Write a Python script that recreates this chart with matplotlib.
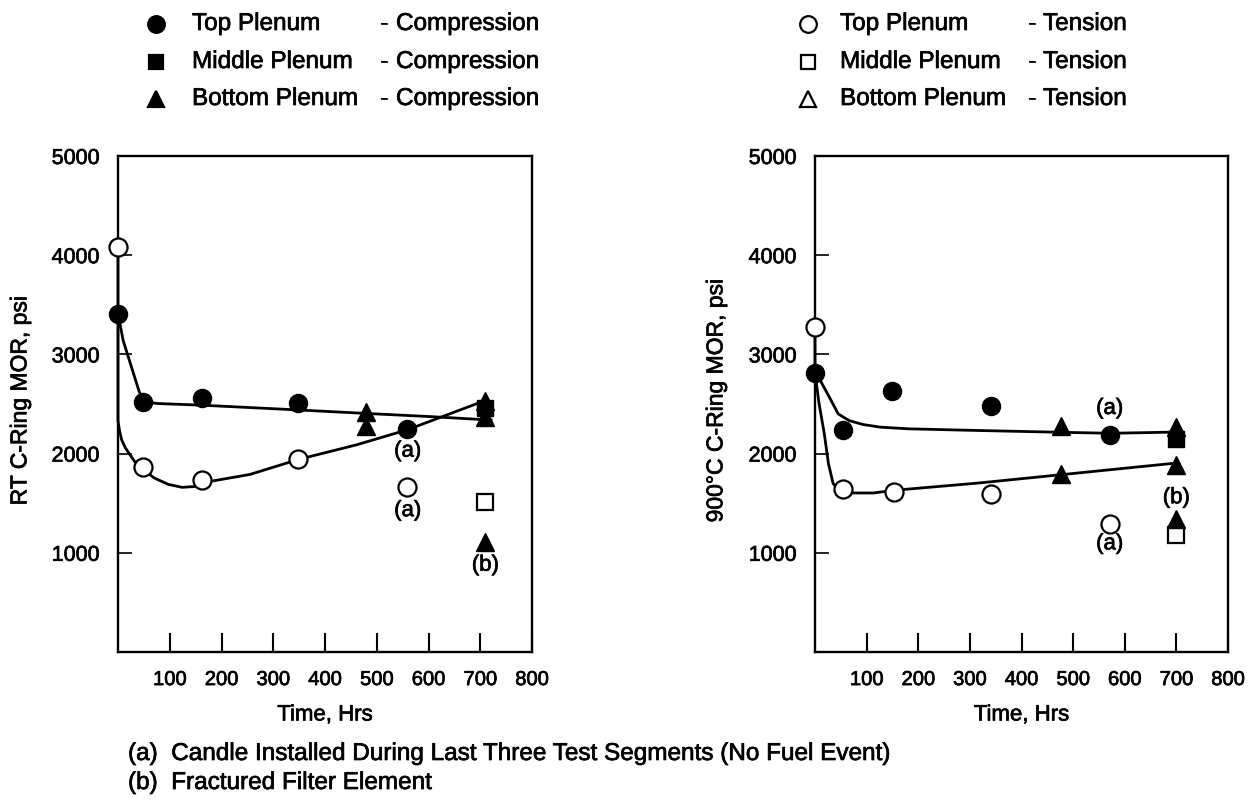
import matplotlib
matplotlib.use("Agg")
import matplotlib.pyplot as plt
import matplotlib.patheffects as pe
from matplotlib.lines import Line2D

plt.rcParams['font.family'] = ['Liberation Sans', 'DejaVu Sans']

# slightly heavier strokes for all text
HEAVY = [pe.withStroke(linewidth=0.5, foreground='black')]

# ---------------- Room temperature (left panel) ----------------
rt_top_comp_x = [0, 48, 162, 348, 559]
rt_top_comp_y = [3410, 2520, 2565, 2515, 2245]
rt_top_ten_x = [0, 48, 162, 348, 559]
rt_top_ten_y = [4080, 1860, 1735, 1950, 1665]
rt_mid_comp_x = [710]
rt_mid_comp_y = [2455]
rt_mid_ten_x = [710]
rt_mid_ten_y = [1510]
rt_bot_comp_x = [479, 479, 710, 710, 710]
rt_bot_comp_y = [2420, 2275, 2530, 2370, 1110]

# fitted trend curves
rt_comp_fit_x = [0, 10, 28, 41, 52, 76, 162, 348, 479, 607, 721]
rt_comp_fit_y = [3410, 3140, 2840, 2623, 2523, 2505, 2488, 2440, 2405, 2372, 2338]
rt_ten_fit_x = [0, 0, 3, 7, 14, 21, 34, 48, 69, 97, 124, 148, 162, 255, 348, 462, 559, 712]
rt_ten_fit_y = [4080, 2330, 2230, 2140, 2060, 2005, 1907, 1847, 1757, 1690, 1660, 1668, 1705, 1790, 1940, 2090, 2240, 2540]

rt_notes = [("(a)", 560, 2025), ("(a)", 560, 1425), ("(b)", 710, 875)]

# ---------------- 900 °C (right panel) ----------------
ht_top_comp_x = [0, 54, 150, 341, 572]
ht_top_comp_y = [2810, 2240, 2630, 2480, 2190]
ht_top_ten_x = [0, 54, 153, 341, 572]
ht_top_ten_y = [3280, 1640, 1617, 1590, 1290]
ht_mid_comp_x = [700]
ht_mid_comp_y = [2150]
ht_mid_ten_x = [700]
ht_mid_ten_y = [1175]
ht_bot_comp_x = [476, 476, 700, 700, 700]
ht_bot_comp_y = [2275, 1790, 2270, 1885, 1345]

ht_comp_fit_x = [0, 11, 28, 45, 66, 93, 126, 180, 316, 476, 572, 700]
ht_comp_fit_y = [2810, 2730, 2567, 2400, 2333, 2293, 2267, 2250, 2233, 2215, 2205, 2217]
ht_ten_fit_x = [0, 0, 8, 18, 26, 35, 45, 72, 113, 153, 316, 476, 700]
ht_ten_fit_y = [3280, 2810, 2500, 2200, 1900, 1700, 1637, 1603, 1603, 1630, 1703, 1787, 1905]

ht_notes = [("(a)", 571, 2455), ("(a)", 571, 1090), ("(b)", 700, 1555)]

x_ticks = [100, 200, 300, 400, 500, 600, 700, 800]
y_ticks = [1000, 2000, 3000, 4000, 5000]

W, H = 1248, 804
fig = plt.figure(figsize=(W / 100, H / 100), dpi=100)

def px_ax(l, t, r, b):
    return [l / W, 1 - b / H, (r - l) / W, (b - t) / H]

ax_l = fig.add_axes(px_ax(118, 157, 532, 653))
ax_r = fig.add_axes(px_ax(815, 157, 1228, 653))

MS_C = 13
MS_T = 13
MS_S = 11
LW = 2.0

def draw_panel(ax, comp_fit, ten_fit, top_c, top_t, mid_c, mid_t, bot_c, notes, ylabel, ylab_x):
    ax.plot(*ten_fit, color='black', lw=LW, solid_joinstyle='round', clip_on=False, zorder=2)
    ax.plot(*comp_fit, color='black', lw=LW, solid_joinstyle='round', clip_on=False, zorder=2)
    ax.plot(*top_c, 'o', ms=MS_C, mfc='black', mec='black', clip_on=False, zorder=3)
    ax.plot(*top_t, 'o', ms=MS_C, mfc='white', mec='black', mew=1.6, clip_on=False, zorder=3)
    ax.plot(*mid_c, 's', ms=MS_S, mfc='black', mec='black', clip_on=False, zorder=3)
    ax.plot(*mid_t, 's', ms=MS_S, mfc='white', mec='black', mew=1.6, clip_on=False, zorder=3)
    ax.plot(*bot_c, '^', ms=MS_T, mfc='black', mec='black', clip_on=False, zorder=4)
    for txt, x, y in notes:
        ax.text(x, y, txt, ha='center', va='center', fontsize=16, path_effects=HEAVY)
    ax.set_xlim(0, 800)
    ax.set_ylim(0, 5000)
    ax.set_xticks(x_ticks)
    ax.set_yticks(y_ticks)
    ax.set_xticklabels([str(v) for v in x_ticks])
    ax.set_yticklabels([str(v) for v in y_ticks])
    ax.tick_params(axis='x', direction='in', length=14, width=1.5, pad=13, labelsize=14.5)
    ax.tick_params(axis='y', direction='in', length=10, width=1.2, pad=13, labelsize=15.5)
    for lab in ax.get_xticklabels() + ax.get_yticklabels():
        lab.set_path_effects(HEAVY)
    for sp in ax.spines.values():
        sp.set_linewidth(1.7)
    ax.text(0.5, -0.127, "Time, Hrs", transform=ax.transAxes, ha='center', va='center',
            fontsize=16, path_effects=HEAVY)
    ax.text(ylab_x, 0.506, ylabel, transform=ax.transAxes, ha='center', va='center',
            rotation=90, fontsize=16.5, path_effects=HEAVY)

draw_panel(ax_l, (rt_comp_fit_x, rt_comp_fit_y), (rt_ten_fit_x, rt_ten_fit_y),
           (rt_top_comp_x, rt_top_comp_y), (rt_top_ten_x, rt_top_ten_y),
           (rt_mid_comp_x, rt_mid_comp_y), (rt_mid_ten_x, rt_mid_ten_y),
           (rt_bot_comp_x, rt_bot_comp_y), rt_notes, "RT C-Ring MOR, psi", -0.237)
draw_panel(ax_r, (ht_comp_fit_x, ht_comp_fit_y), (ht_ten_fit_x, ht_ten_fit_y),
           (ht_top_comp_x, ht_top_comp_y), (ht_top_ten_x, ht_top_ten_y),
           (ht_mid_comp_x, ht_mid_comp_y), (ht_mid_ten_x, ht_mid_ten_y),
           (ht_bot_comp_x, ht_bot_comp_y), ht_notes, "900°C C-Ring MOR, psi", -0.240)

# ---------------- legend blocks ----------------
legend_rows_y = [25, 63, 100]
legend_entries = [('o', 'Top Plenum'), ('s', 'Middle Plenum'), ('^', 'Bottom Plenum')]
LEG_FS = 17.5

def legend_block(mx, tx, dx, wx, word, face):
    for (mk, name), y in zip(legend_entries, legend_rows_y):
        ms = {'o': 12, 's': 10, '^': 12}[mk]
        fig.add_artist(Line2D([mx / W], [1 - y / H], marker=mk, ms=ms, mfc=face, mec='black',
                              mew=1.6, ls='none', transform=fig.transFigure))
        fig.text(tx / W, 1 - y / H, name, ha='left', va='center', fontsize=LEG_FS,
                 path_effects=HEAVY)
        fig.text(dx / W, 1 - y / H, "-", ha='left', va='center', fontsize=LEG_FS,
                 path_effects=HEAVY)
        fig.text(wx / W, 1 - y / H, word, ha='left', va='center', fontsize=LEG_FS,
                 path_effects=HEAVY)

legend_block(156, 192, 380, 396, "Compression", 'black')
legend_block(808, 840, 1028, 1043, "Tension", 'white')

# ---------------- footnotes ----------------
fig.text(128 / W, 1 - 755 / H, "(a)  Candle Installed During Last Three Test Segments (No Fuel Event)",
         ha='left', va='center', fontsize=17.5, path_effects=HEAVY)
fig.text(128 / W, 1 - 784 / H, "(b)  Fractured Filter Element", ha='left', va='center',
         fontsize=17.5, path_effects=HEAVY)

fig.savefig("out.png", dpi=100, facecolor='white')
